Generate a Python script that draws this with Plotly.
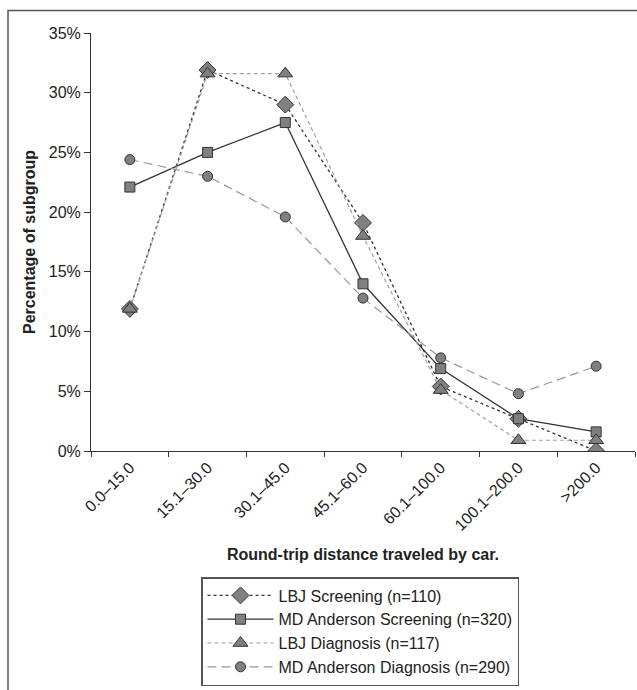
import plotly.graph_objects as go

categories = ["0.0\u201315.0", "15.1\u201330.0", "30.1\u201345.0", "45.1\u201360.0",
              "60.1\u2013100.0", "100.1\u2013200.0", ">200.0"]

lbj_screening = [11.9, 31.9, 29.0, 19.1, 5.4, 2.7, 0.0]
mda_screening = [22.1, 25.0, 27.5, 14.0, 6.9, 2.7, 1.6]
lbj_diagnosis = [11.9, 31.6, 31.6, 18.0, 5.1, 0.9, 0.9]
mda_diagnosis = [24.4, 23.0, 19.6, 12.8, 7.8, 4.8, 7.1]

names = ["LBJ Screening (n=110)", "MD Anderson Screening (n=320)",
         "LBJ Diagnosis (n=117)", "MD Anderson Diagnosis (n=290)"]

FONT = "Liberation Sans, Arial, Helvetica, sans-serif"
DARK = "#333333"
FILL = "#808080"
TXT = "#222222"
FS = 16

series = [
    (lbj_screening, names[0], dict(color=DARK, width=1.3, dash="dot"), "diamond", 13),
    (mda_screening, names[1], dict(color=DARK, width=1.3, dash="solid"), "square", 10),
    (lbj_diagnosis, names[2], dict(color="#a0a0a0", width=1.2, dash="4px,3px"), "triangle-up", 13),
    (mda_diagnosis, names[3], dict(color="#999999", width=1.2, dash="9px,5px"), "circle", 10),
]

fig = go.Figure()
for vals, nm, line, sym, sz in series:
    fig.add_trace(go.Scatter(
        x=categories, y=vals, name=nm, mode="lines+markers",
        line=line,
        marker=dict(symbol=sym, size=sz, color=FILL, line=dict(color=DARK, width=1)),
    ))

W, H = 637, 690
L, R, T, B = 91, 2, 33, 239
pw = W - L - R
ph = H - T - B

def px2x(px):
    return (px - L) / pw

def py2y(py):
    return (H - B - py) / ph

fig.update_layout(
    width=W, height=H,
    margin=dict(l=L, r=R, t=T, b=B),
    paper_bgcolor="white", plot_bgcolor="white",
    font=dict(family=FONT, size=FS, color=TXT),
    showlegend=True,
    legend=dict(
        x=px2x(201), y=py2y(577), xanchor="left", yanchor="top",
        bordercolor="#555555", borderwidth=1.5, bgcolor="white",
        font=dict(family=FONT, size=FS, color=TXT),
        itemwidth=66, tracegroupgap=0,
    ),
    xaxis=dict(
        type="category", range=[-0.5, 6.5], tickson="boundaries",
        showline=True, linecolor=DARK, linewidth=1,
        ticks="outside", ticklen=5, tickcolor=DARK, tickwidth=1,
        tickangle=-45, showgrid=False, zeroline=False,
        tickfont=dict(family=FONT, size=FS, color=TXT),
        title=dict(text="<b>Round-trip distance traveled by car.</b>",
                   font=dict(family=FONT, size=FS, color=TXT), standoff=15),
    ),
    yaxis=dict(
        range=[0, 35], dtick=5, ticksuffix="%",
        showline=True, linecolor=DARK, linewidth=1,
        ticks="outside", ticklen=6, tickcolor=DARK, tickwidth=1,
        showgrid=False, zeroline=False,
        tickfont=dict(family=FONT, size=FS, color=TXT),
        title=dict(text="<b>Percentage of subgroup</b>",
                   font=dict(family=FONT, size=FS, color=TXT), standoff=9),
    ),
    shapes=[
        dict(type="rect", xref="paper", yref="paper",
             x0=px2x(8), x1=px2x(660), y0=py2y(720), y1=py2y(10.5),
             line=dict(color="#555555", width=1.5), fillcolor="rgba(0,0,0,0)", layer="below"),
    ],
)

fig.write_html("out.html", config={"displayModeBar": False},
               post_script="document.body.style.margin='0';")
